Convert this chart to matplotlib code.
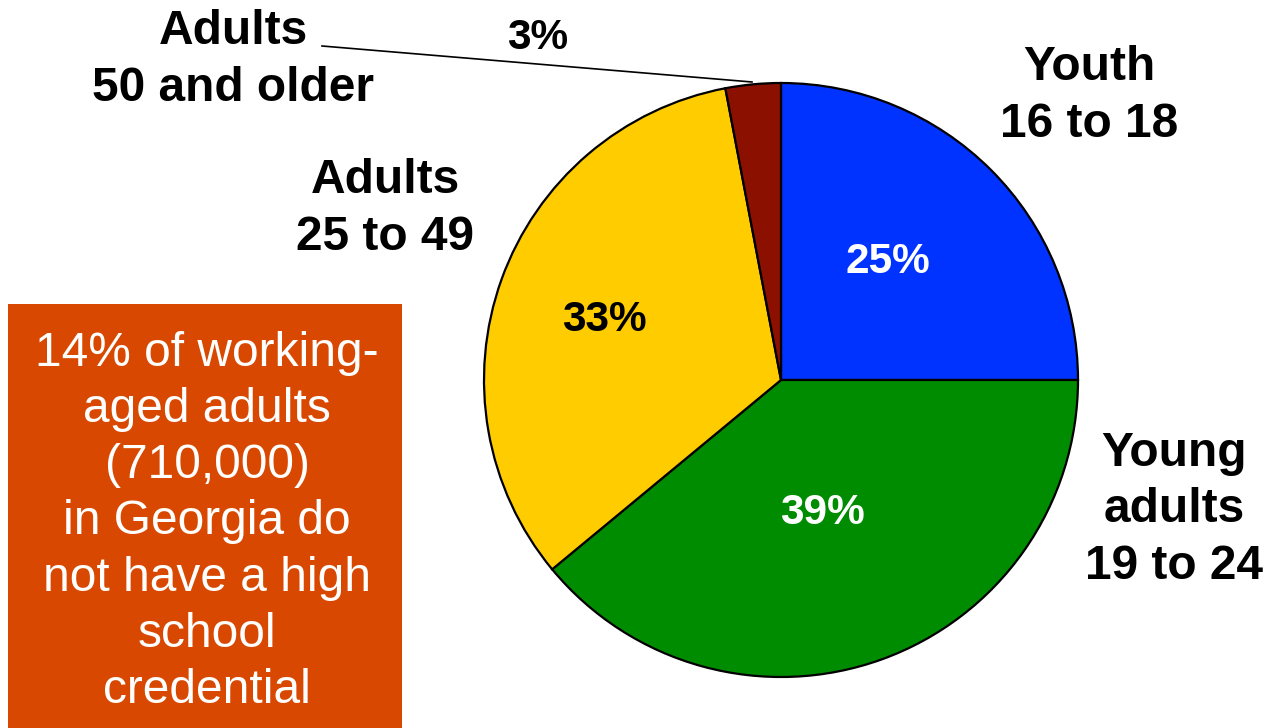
import matplotlib.pyplot as plt
from matplotlib.patches import Rectangle

plt.rcParams['font.family'] = ['Liberation Sans', 'DejaVu Sans']

# share of working-aged adults without a high school credential, by age group
groups = ['Youth\n16 to 18', 'Young\nadults\n19 to 24', 'Adults\n25 to 49', 'Adults\n50 and older']
shares = [25, 39, 33, 3]
colors = ['#0033ff', '#008c00', '#ffcc00', '#8c1000']
pct_colors = ['white', 'white', 'black', 'black']

# positions in pixels (y from top)
label_pos = [(1089, 96), (1174, 510), (385, 209), (233, 60)]
pct_pos = [(888, 262), (822, 513), (604, 320), (538, 38)]

W, H = 1266, 728
fig = plt.figure(figsize=(W / 100, H / 100), dpi=100)
ax = fig.add_axes([0, 0, 1, 1])

ax.pie(shares, colors=colors, startangle=90, counterclock=False,
       center=(781, H - 380), radius=297, frame=True,
       wedgeprops=dict(edgecolor='black', linewidth=1.6))
ax.set_xlim(0, W)
ax.set_ylim(0, H)
ax.set_aspect('equal')
ax.axis('off')

for g, (x, y) in zip(groups, label_pos):
    ax.text(x, H - y, g, ha='center', va='center', fontsize=34.5,
            fontweight='bold', linespacing=1.33)

for s, c, (x, y) in zip(shares, pct_colors, pct_pos):
    ax.text(x, H - y, f'{s}%', ha='center', va='center', fontsize=30.5,
            fontweight='bold', color=c)

# leader line for the small slice
ax.plot([322, 752], [H - 46, H - 82], color='black', lw=1.2)

# callout box
ax.add_patch(Rectangle((8, 0), 394, H - 304, facecolor='#d84800', edgecolor='none'))
ax.text(207, H - 522,
        '14% of working-\naged adults\n(710,000)\nin Georgia do\nnot have a high\nschool\ncredential',
        ha='center', va='center', fontsize=34.5, color='white', linespacing=1.32)

fig.savefig('out.png', dpi=100)
